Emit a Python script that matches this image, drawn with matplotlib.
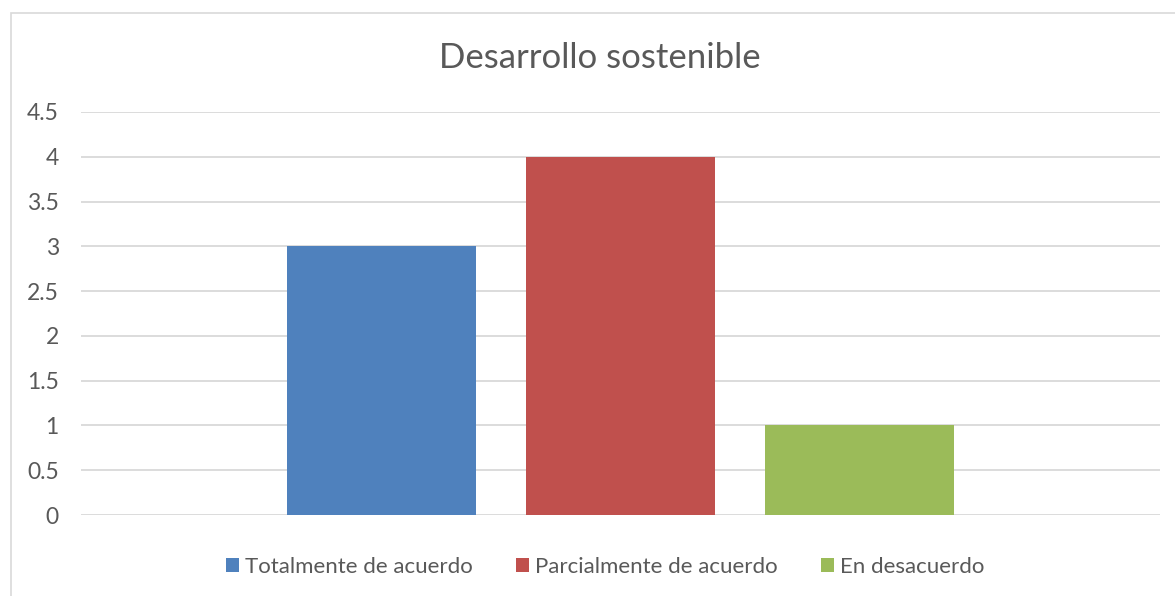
import matplotlib
matplotlib.use("Agg")
import matplotlib.pyplot as plt
from matplotlib.patches import Rectangle

title = "Desarrollo sostenible"
series = ["Totalmente de acuerdo", "Parcialmente de acuerdo", "En desacuerdo"]
values = [3, 4, 1]
colors = ["#4F81BD", "#C0504D", "#9BBB59"]
yticks = [0, 0.5, 1, 1.5, 2, 2.5, 3, 3.5, 4, 4.5]
yticklabels = ["0", "0.5", "1", "1.5", "2", "2.5", "3", "3.5", "4", "4.5"]

plt.rcParams['font.family'] = ['Lato', 'DejaVu Sans']
W, H = 1175, 596
fig = plt.figure(figsize=(W/100, H/100), dpi=100)
txt = "#595959"
grid = "#D9D9D9"

fig.patches.append(Rectangle((11/W, -0.1), 2, 1.1 - 13/H, transform=fig.transFigure,
                             fill=False, edgecolor=grid, lw=1.2))

ax = fig.add_axes([81/W, 81/H, (1160-81)/W, (515-112)/H])
width = 189/1079
step = 239/1079
for i, (s, v, c) in enumerate(zip(series, values, colors)):
    ax.bar((i-1)*step, v, width=width, color=c, label=s, zorder=3)
ax.set_xlim(-0.5, 0.5)
ax.set_ylim(0, 4.5)
ax.set_yticks(yticks)
ax.set_yticklabels(yticklabels)
ax.set_xticks([])
for sp in ax.spines.values():
    sp.set_visible(False)
ax.yaxis.grid(True, color=grid, lw=1.3, zorder=0)
ax.tick_params(axis='y', length=0, pad=16, labelsize=16.5, labelcolor=txt)

fig.text(600/W, 1 - 58/H, title, ha='center', va='center', fontsize=25, color=txt)

leg = fig.legend(loc='center', bbox_to_anchor=(605/W, 1 - 567/H), ncol=3, frameon=False,
                 fontsize=16, labelcolor=txt, handlelength=0.6, handleheight=0.6,
                 handletextpad=0.25, columnspacing=1.95)

fig.savefig("out.png", dpi=100, facecolor="white")
